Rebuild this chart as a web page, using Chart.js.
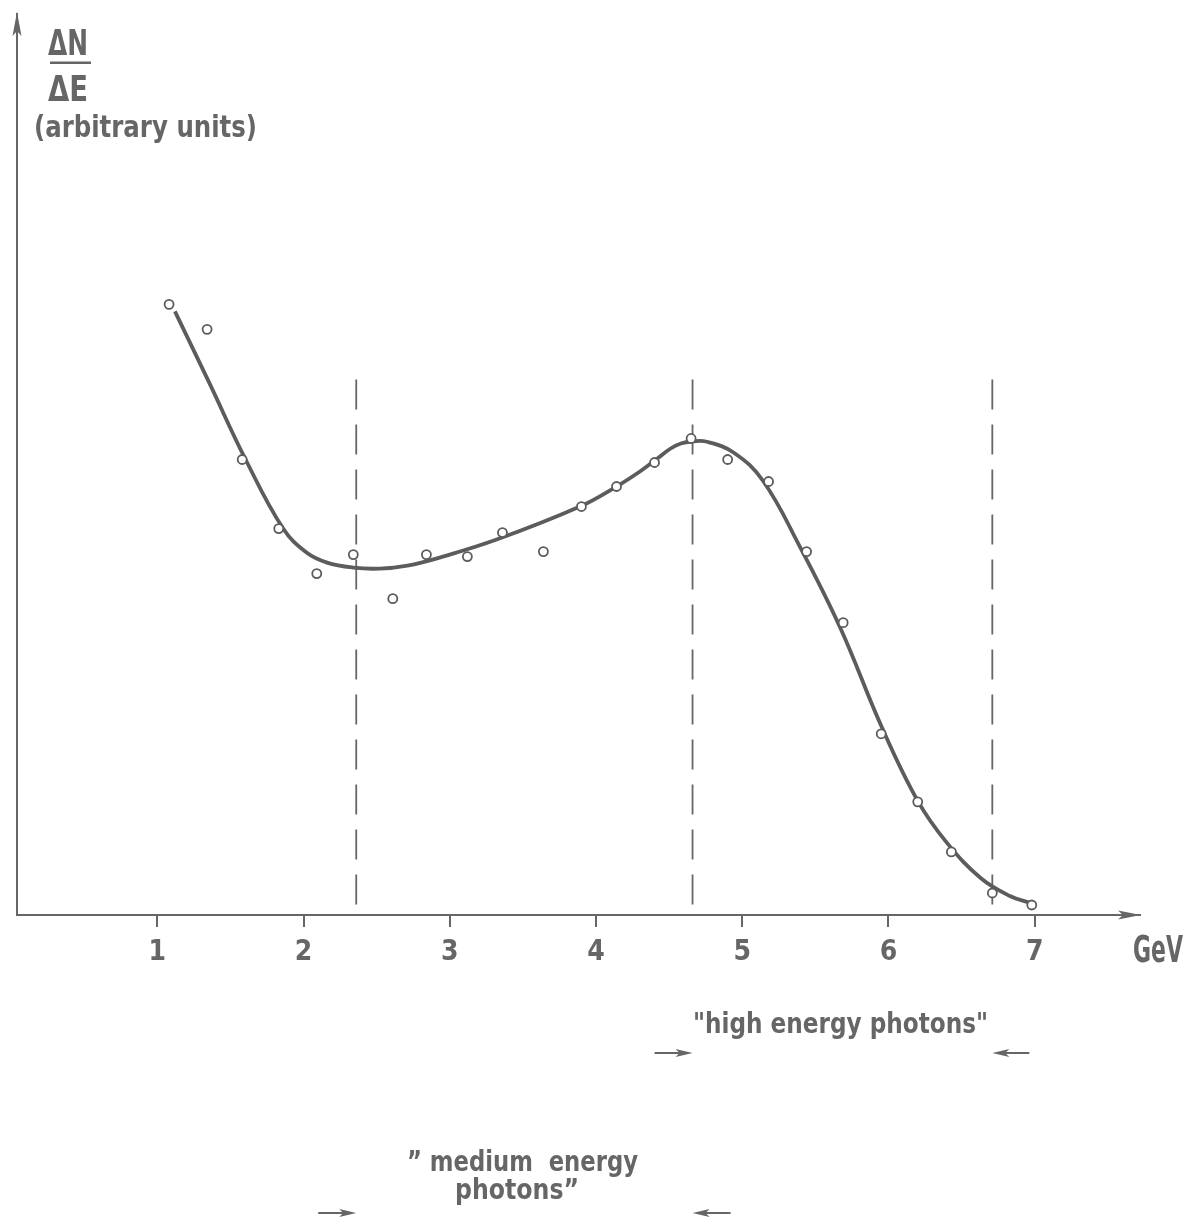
<!DOCTYPE html>
<html>
<head>
<meta charset="utf-8">
<script src="https://cdn.jsdelivr.net/npm/chart.js@4.4.1/dist/chart.umd.min.js"></script>
<style>
body { margin: 0; background: #fff; }
</style>
</head>
<body>
<canvas id="myChart" width="1187" height="1221"></canvas>
<script>
// measured points (open circles)
const energies = [1.08, 1.34, 1.58, 1.83, 2.09, 2.34, 2.61, 2.84, 3.12, 3.36, 3.64, 3.90, 4.14, 4.40, 4.65, 4.90, 5.18, 5.44, 5.69, 5.95, 6.20, 6.43, 6.71, 6.98];
const counts = [61.0, 58.5, 45.5, 38.6, 34.1, 36.0, 31.6, 36.0, 35.8, 38.2, 36.3, 40.8, 42.8, 45.2, 47.6, 45.5, 43.3, 36.3, 29.2, 18.1, 11.3, 6.3, 2.2, 1.0];

// hand drawn smooth curve
const curveE = [1.12, 1.36, 1.60, 1.86, 2.02, 2.16, 2.34, 2.52, 2.71, 2.93, 3.32, 3.89, 4.14, 4.30, 4.42, 4.51, 4.58, 4.66, 4.75, 4.94, 5.14, 5.39, 5.67, 5.95, 6.20, 6.40, 6.63, 6.83, 6.97];
const curveN = [60.3, 53.0, 45.6, 38.6, 36.2, 35.2, 34.7, 34.6, 34.9, 35.7, 37.5, 40.8, 42.8, 44.3, 45.6, 46.6, 47.1, 47.3, 47.3, 46.2, 43.4, 36.9, 28.7, 18.9, 11.4, 7.2, 3.7, 1.9, 1.2];

const tickValues = [1, 2, 3, 4, 5, 6, 7];
const boundaries = [2.36, 4.66, 6.71];
const boundaryTop = 53.5;

const FONT = "'DejaVu Sans Condensed', 'Liberation Sans Narrow', 'DejaVu Sans', sans-serif";
const ink = "#666666";
const curveInk = "#5c5c5c";

const toXY = (xs, ys) => xs.map((x, i) => ({ x: x, y: ys[i] }));

let dashSets = boundaries.map(b => ({
	data: [{ x: b, y: boundaryTop }, { x: b, y: 0 }],
	showLine: true,
	borderColor: ink,
	borderWidth: 1.8,
	borderDash: [30, 15],
	pointRadius: 0,
	order: 3
}));

// squeeze text into the measured width
const fitText = (ctx, text, left, base, width, size) => {
	ctx.save();
	ctx.font = "bold " + size + "px " + FONT;
	let w = ctx.measureText(text).width;
	ctx.translate(left, base);
	ctx.scale(width / w, 1);
	ctx.textBaseline = "alphabetic";
	ctx.textAlign = "left";
	ctx.fillStyle = ink;
	ctx.fillText(text, 0, 0);
	ctx.restore();
}

const arrow = (ctx, x1, x2, y) => {
	let dir = x2 > x1 ? 1 : -1;
	ctx.save();
	ctx.strokeStyle = ink;
	ctx.fillStyle = ink;
	ctx.lineWidth = 2;
	ctx.beginPath();
	ctx.moveTo(x1, y);
	ctx.lineTo(x2 - dir * 6, y);
	ctx.stroke();
	ctx.beginPath();
	ctx.moveTo(x2, y);
	ctx.lineTo(x2 - dir * 17, y - 4);
	ctx.lineTo(x2 - dir * 13, y);
	ctx.lineTo(x2 - dir * 17, y + 4);
	ctx.closePath();
	ctx.fill();
	ctx.restore();
}

const annotations = {
	id: "annotations",
	afterDraw(chart) {
		let ctx = chart.ctx;
		let a = chart.chartArea;
		let xs = chart.scales.x;

		// axis arrowheads
		ctx.save();
		ctx.fillStyle = ink;
		ctx.beginPath();
		ctx.moveTo(a.left, a.top - 2);
		ctx.lineTo(a.left - 4.5, a.top + 22);
		ctx.lineTo(a.left, a.top + 17);
		ctx.lineTo(a.left + 4.5, a.top + 22);
		ctx.closePath();
		ctx.fill();
		ctx.beginPath();
		ctx.moveTo(a.right + 1, a.bottom);
		ctx.lineTo(a.right - 22, a.bottom - 4.5);
		ctx.lineTo(a.right - 17, a.bottom);
		ctx.lineTo(a.right - 22, a.bottom + 4.5);
		ctx.closePath();
		ctx.fill();
		ctx.restore();

		// y axis title
		fitText(ctx, "ΔN", 48, 55, 40, 36);
		ctx.fillStyle = ink;
		ctx.fillRect(50, 61.5, 41, 2.5);
		fitText(ctx, "ΔE", 48, 101, 40, 36);
		fitText(ctx, "(arbitrary units)", 34, 137, 223, 30);

		// x axis unit
		fitText(ctx, "GeV", 1133, 962, 50, 38);

		// energy bands
		fitText(ctx, "\"high energy photons\"", 693, 1033, 295, 29);
		arrow(ctx, xs.getPixelForValue(boundaries[1]) - 38, xs.getPixelForValue(boundaries[1]), 1053);
		arrow(ctx, xs.getPixelForValue(boundaries[2]) + 37, xs.getPixelForValue(boundaries[2]), 1053);

		fitText(ctx, "\u201D medium  energy", 407, 1171, 231, 29);
		fitText(ctx, "photons\u201D", 455, 1199, 124, 29);
		arrow(ctx, xs.getPixelForValue(boundaries[0]) - 38, xs.getPixelForValue(boundaries[0]), 1213);
		arrow(ctx, xs.getPixelForValue(boundaries[1]) + 38, xs.getPixelForValue(boundaries[1]), 1213);
	}
}

let chart = new Chart(document.getElementById("myChart"), {
	type: "scatter",
	data: {
		datasets: [
			{
				data: toXY(energies, counts),
				pointRadius: 4.5,
				pointBorderWidth: 1.8,
				pointBackgroundColor: "#ffffff",
				pointBorderColor: curveInk,
				showLine: false,
				order: 1
			},
			{
				data: toXY(curveE, curveN),
				showLine: true,
				tension: 0.4,
				borderColor: curveInk,
				borderWidth: 3.8,
				pointRadius: 0,
				order: 2
			}
		].concat(dashSets)
	},
	options: {
		responsive: false,
		devicePixelRatio: 1,
		animation: false,
		layout: { padding: { left: 17, right: 47, top: 14, bottom: 0 } },
		plugins: {
			legend: { display: false },
			tooltip: { enabled: false }
		},
		scales: {
			x: {
				type: "linear",
				min: 0.04,
				max: 7.72,
				afterFit: s => { s.height = 306; },
				afterBuildTicks: s => { s.ticks = tickValues.map(v => ({ value: v })); },
				border: { display: true, color: ink, width: 2 },
				grid: { display: true, drawOnChartArea: false, drawTicks: true, tickLength: 12, color: ink, lineWidth: 2 },
				ticks: {
					color: ink,
					padding: 9,
					maxRotation: 0,
					autoSkip: false,
					font: { family: FONT, size: 28, weight: "bold" },
					callback: v => String(v)
				}
			},
			y: {
				min: 0,
				max: 90,
				afterFit: s => { s.width = 0; },
				border: { display: true, color: ink, width: 2 },
				grid: { display: false },
				ticks: { display: false }
			}
		}
	},
	plugins: [annotations]
});
</script>
</body>
</html>
